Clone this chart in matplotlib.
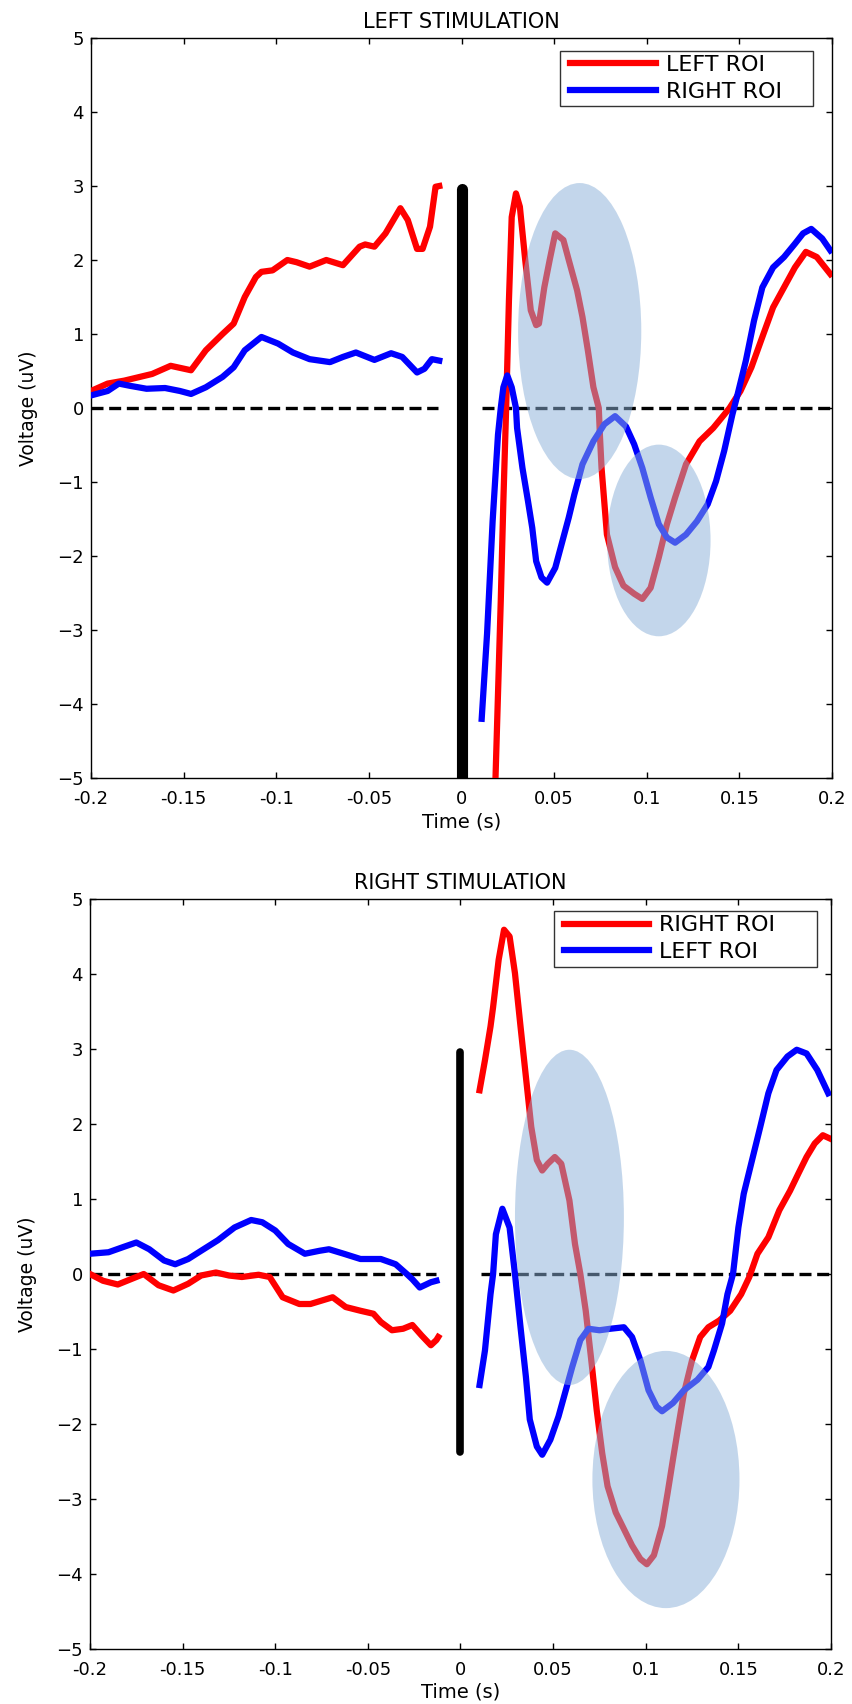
import numpy as np
import matplotlib
matplotlib.use('Agg')
import matplotlib.pyplot as plt
from matplotlib.patches import Ellipse
from matplotlib.legend_handler import HandlerLine2D

plt.rcParams['font.family'] = ['DejaVu Sans']

# ---- LEFT STIMULATION ----
left_red_pre_t = [-0.200, -0.191, -0.182, -0.167, -0.157, -0.146, -0.138, -0.129, -0.123, -0.117,
                  -0.111, -0.108, -0.102, -0.094, -0.089, -0.082, -0.073, -0.064, -0.055, -0.052,
                  -0.047, -0.041, -0.033, -0.029, -0.024, -0.021, -0.017, -0.014, -0.012]
left_red_pre_v = [0.23, 0.33, 0.37, 0.46, 0.57, 0.51, 0.78, 1.00, 1.14, 1.50,
                  1.77, 1.84, 1.86, 2.00, 1.97, 1.91, 2.00, 1.93, 2.18, 2.21,
                  2.18, 2.36, 2.70, 2.54, 2.15, 2.15, 2.45, 2.99, 3.00]
left_blue_pre_t = [-0.200, -0.191, -0.185, -0.179, -0.170, -0.160, -0.152, -0.146, -0.138, -0.129,
                   -0.123, -0.117, -0.108, -0.099, -0.091, -0.082, -0.071, -0.064, -0.057, -0.047,
                   -0.038, -0.032, -0.024, -0.020, -0.016, -0.012]
left_blue_pre_v = [0.17, 0.23, 0.33, 0.30, 0.26, 0.27, 0.23, 0.19, 0.28, 0.42,
                   0.55, 0.78, 0.96, 0.87, 0.75, 0.66, 0.62, 0.69, 0.75, 0.65,
                   0.74, 0.69, 0.48, 0.53, 0.66, 0.64]
left_red_post_t = [0.0180, 0.0212, 0.0226, 0.0241, 0.0256, 0.0271, 0.0294, 0.0315, 0.0344, 0.0374,
                   0.0403, 0.0418, 0.0447, 0.0476, 0.0506, 0.0550, 0.0579, 0.0624, 0.0653, 0.0682,
                   0.0712, 0.0741, 0.0747, 0.0756, 0.0785, 0.0829, 0.0874, 0.0932, 0.0976, 0.1021,
                   0.1065, 0.1109, 0.1153, 0.1212, 0.1285, 0.1359, 0.1418, 0.1447, 0.1506, 0.1565,
                   0.1624, 0.1682, 0.1741, 0.1800, 0.1859, 0.1918, 0.1991]
left_red_post_v = [-5.30, -2.60, -1.26, 0.00, 1.45, 2.58, 2.90, 2.72, 2.00, 1.32,
                   1.12, 1.14, 1.63, 2.00, 2.36, 2.27, 2.00, 1.59, 1.23, 0.78,
                   0.28, 0.00, -0.36, -0.81, -1.71, -2.15, -2.40, -2.51, -2.58, -2.43,
                   -2.02, -1.57, -1.21, -0.76, -0.45, -0.27, -0.09, 0.00, 0.23, 0.55,
                   0.96, 1.36, 1.63, 1.90, 2.11, 2.04, 1.81]
left_blue_post_t = [0.0109, 0.0138, 0.0168, 0.0197, 0.0212, 0.0226, 0.0247, 0.0271, 0.0294, 0.0300,
                    0.0329, 0.0359, 0.0382, 0.0403, 0.0432, 0.0462, 0.0506, 0.0535, 0.0579, 0.0609,
                    0.0653, 0.0712, 0.0771, 0.0829, 0.0888, 0.0932, 0.0976, 0.1021, 0.1065, 0.1109,
                    0.1153, 0.1212, 0.1271, 0.1329, 0.1374, 0.1418, 0.1462, 0.1491, 0.1535, 0.1579,
                    0.1624, 0.1682, 0.1741, 0.1800, 0.1844, 0.1888, 0.1947, 0.1991]
left_blue_post_v = [-4.20, -3.05, -1.53, -0.36, 0.00, 0.28, 0.44, 0.28, 0.00, -0.27,
                    -0.81, -1.26, -1.62, -2.07, -2.29, -2.36, -2.16, -1.89, -1.48, -1.17,
                    -0.76, -0.45, -0.22, -0.11, -0.25, -0.49, -0.81, -1.21, -1.57, -1.75,
                    -1.82, -1.71, -1.53, -1.30, -0.99, -0.58, -0.09, 0.19, 0.64, 1.18,
                    1.63, 1.90, 2.04, 2.22, 2.36, 2.42, 2.29, 2.13]

# ---- RIGHT STIMULATION ----
right_red_pre_t = [-0.200, -0.193, -0.185, -0.178, -0.171, -0.163, -0.155, -0.147, -0.140, -0.132,
                   -0.125, -0.118, -0.109, -0.103, -0.096, -0.087, -0.081, -0.069, -0.062, -0.054,
                   -0.047, -0.043, -0.037, -0.031, -0.026, -0.021, -0.016, -0.013, -0.012]
right_red_pre_v = [0.00, -0.09, -0.14, -0.07, 0.00, -0.15, -0.22, -0.13, -0.02, 0.02,
                   -0.02, -0.04, -0.01, -0.04, -0.31, -0.40, -0.40, -0.31, -0.44, -0.49,
                   -0.53, -0.64, -0.75, -0.73, -0.68, -0.82, -0.95, -0.88, -0.84]
right_blue_pre_t = [-0.200, -0.190, -0.182, -0.175, -0.168, -0.160, -0.154, -0.147, -0.140, -0.131,
                    -0.122, -0.113, -0.107, -0.100, -0.093, -0.084, -0.076, -0.071, -0.063, -0.054,
                    -0.043, -0.035, -0.029, -0.026, -0.022, -0.016, -0.013]
right_blue_pre_v = [0.27, 0.29, 0.36, 0.42, 0.33, 0.18, 0.13, 0.20, 0.31, 0.45,
                    0.62, 0.72, 0.69, 0.58, 0.40, 0.27, 0.31, 0.33, 0.27, 0.20,
                    0.20, 0.13, 0.00, -0.07, -0.18, -0.11, -0.09]
right_red_post_t = [0.0103, 0.0132, 0.0162, 0.0176, 0.0206, 0.0235, 0.0265, 0.0294, 0.0324, 0.0353,
                    0.0382, 0.0412, 0.0441, 0.0471, 0.0509, 0.0544, 0.0588, 0.0618, 0.0647, 0.0676,
                    0.0706, 0.0735, 0.0765, 0.0794, 0.0838, 0.0882, 0.0926, 0.0971, 0.1006, 0.1044,
                    0.1088, 0.1118, 0.1147, 0.1176, 0.1206, 0.1250, 0.1294, 0.1338, 0.1397, 0.1456,
                    0.1515, 0.1559, 0.1603, 0.1662, 0.1721, 0.1779, 0.1824, 0.1868, 0.1912, 0.1956,
                    0.2000]
right_red_post_v = [2.45, 2.85, 3.30, 3.56, 4.19, 4.59, 4.50, 4.01, 3.30, 2.63,
                    1.96, 1.52, 1.38, 1.47, 1.56, 1.47, 0.98, 0.40, 0.00, -0.49,
                    -1.15, -1.81, -2.39, -2.83, -3.18, -3.40, -3.62, -3.80, -3.87, -3.75,
                    -3.36, -2.92, -2.47, -2.03, -1.59, -1.15, -0.84, -0.71, -0.62, -0.49,
                    -0.27, -0.04, 0.27, 0.49, 0.85, 1.11, 1.34, 1.56, 1.74, 1.85,
                    1.80]
right_blue_post_t = [0.0103, 0.0132, 0.0162, 0.0176, 0.0191, 0.0226, 0.0265, 0.0294, 0.0324, 0.0353,
                     0.0374, 0.0412, 0.0441, 0.0485, 0.0529, 0.0574, 0.0603, 0.0647, 0.0691, 0.0750,
                     0.0809, 0.0882, 0.0926, 0.0971, 0.1015, 0.1059, 0.1088, 0.1147, 0.1206, 0.1279,
                     0.1338, 0.1368, 0.1412, 0.1441, 0.1471, 0.1500, 0.1529, 0.1574, 0.1618, 0.1662,
                     0.1706, 0.1765, 0.1815, 0.1868, 0.1926, 0.1985]
right_blue_post_v = [-1.48, -1.02, -0.27, 0.00, 0.53, 0.87, 0.62, 0.00, -0.71, -1.37,
                     -1.94, -2.30, -2.41, -2.21, -1.90, -1.50, -1.24, -0.88, -0.73, -0.75,
                     -0.73, -0.71, -0.84, -1.15, -1.55, -1.77, -1.83, -1.72, -1.55, -1.41,
                     -1.24, -1.02, -0.66, -0.27, 0.00, 0.62, 1.07, 1.52, 1.96, 2.41,
                     2.72, 2.90, 2.99, 2.94, 2.72, 2.41]

# ellipses: (center t, center v, width, height)
left_ellipses = [(0.0638, 1.04, 0.0665, 4.00), (0.1065, -1.79, 0.0559, 2.59)]
right_ellipses = [(0.0588, 0.755, 0.0588, 4.47), (0.1109, -2.74, 0.0794, 3.43)]

# stimulus bar extent (v from, v to)
left_bar = (-5.2, 2.96)
right_bar = (-2.37, 2.96)

xticks = [-0.2, -0.15, -0.1, -0.05, 0, 0.05, 0.1, 0.15, 0.2]
xticklabels = ['-0.2', '-0.15', '-0.1', '-0.05', '0', '0.05', '0.1', '0.15', '0.2']
yticks = [-5, -4, -3, -2, -1, 0, 1, 2, 3, 4, 5]

LW = 4.5


def draw_panel(ax, title, red_pre, blue_pre, red_post, blue_post, labels, ellipses, bar, bar_lw,
               dash_pre_end, dash_post_start, leg_box, xlab_y):
    # zero reference, dashed
    ax.plot([-0.2, dash_pre_end], [0, 0], color='k', lw=2.4, dashes=(3.6, 1.7), zorder=2)
    ax.plot([dash_post_start, 0.2], [0, 0], color='k', lw=2.4, dashes=(3.6, 1.7), zorder=2)

    # stimulus onset
    ax.plot([0, 0], bar, color='k', lw=bar_lw, solid_capstyle='round', zorder=3)

    (hr,) = ax.plot(red_pre[0], red_pre[1], color='#ff0000', lw=LW, zorder=3)
    ax.plot(blue_pre[0], blue_pre[1], color='#0000ff', lw=LW, zorder=3)
    ax.plot(red_post[0], red_post[1], color='#ff0000', lw=LW, zorder=3)
    (hb,) = ax.plot(blue_post[0], blue_post[1], color='#0000ff', lw=LW, zorder=3)

    for cx, cy, w, h in ellipses:
        ax.add_patch(Ellipse((cx, cy), w, h, facecolor='#8bb0d8', edgecolor='none',
                             alpha=0.51, zorder=4))

    ax.set_xlim(-0.2, 0.2)
    ax.set_ylim(-5, 5)
    ax.set_xticks(xticks)
    ax.set_xticklabels(xticklabels)
    ax.set_yticks(yticks)
    ax.tick_params(direction='in', top=True, right=True, length=4, width=1, labelsize=13)
    ax.tick_params(axis='x', pad=8.5)
    ax.tick_params(axis='y', pad=5)
    for s in ax.spines.values():
        s.set_linewidth(1.0)

    ax.set_title(title, fontsize=15, pad=7)
    ax.set_xlabel('Time (s)', fontsize=14)
    ax.set_ylabel('Voltage (uV)', fontsize=13.5)
    ax.xaxis.set_label_coords(0.5, xlab_y)
    ax.yaxis.set_label_coords(-0.072, 0.5)

    hmap = {hr: HandlerLine2D(xpad=0.25), hb: HandlerLine2D(xpad=0.25)}
    leg = ax.legend([hr, hb], labels, loc='upper left', bbox_to_anchor=leg_box, mode='expand',
                    fontsize=16, frameon=True, fancybox=False, handlelength=4.1,
                    handletextpad=0.45, borderpad=0.2, labelspacing=0.3, borderaxespad=0,
                    handler_map=hmap)
    leg.get_frame().set_edgecolor('k')
    leg.get_frame().set_linewidth(1.0)
    leg.set_zorder(6)


fig = plt.figure(figsize=(8.53, 17.04), dpi=100)
ax1 = fig.add_axes([91 / 853, 1 - 778 / 1704, 741 / 853, 740 / 1704])
ax2 = fig.add_axes([90 / 853, 1 - 1649 / 1704, 741 / 853, 750 / 1704])

draw_panel(ax1, 'LEFT STIMULATION',
           (left_red_pre_t, left_red_pre_v), (left_blue_pre_t, left_blue_pre_v),
           (left_red_post_t, left_red_post_v), (left_blue_post_t, left_blue_post_v),
           ['LEFT ROI', 'RIGHT ROI'], left_ellipses, left_bar, 8.0,
           -0.0126, 0.0109, (0.633, 0.907, 0.341, 0.076), -0.047)
draw_panel(ax2, 'RIGHT STIMULATION',
           (right_red_pre_t, right_red_pre_v), (right_blue_pre_t, right_blue_pre_v),
           (right_red_post_t, right_red_post_v), (right_blue_post_t, right_blue_post_v),
           ['RIGHT ROI', 'LEFT ROI'], right_ellipses, right_bar, 5.5,
           -0.0132, 0.0112, (0.626, 0.906, 0.355, 0.078), -0.0447)

fig.savefig('out.png', dpi=100)
